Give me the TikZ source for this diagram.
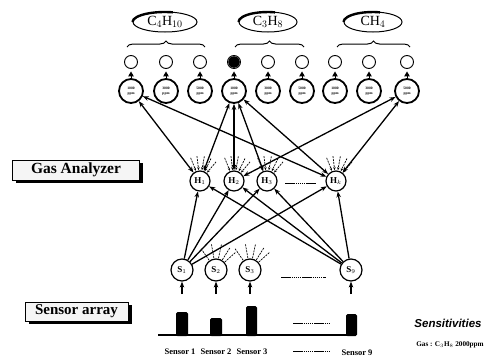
\documentclass[tikz,border=0pt]{standalone}
\usepackage{fontspec}
\setmainfont{Liberation Serif}
\newfontfamily\sansf{Liberation Sans}
\usetikzlibrary{arrows.meta,decorations.pathreplacing,shapes.geometric,shadows}
\begin{document}
\begin{tikzpicture}[x=1pt,y=-1pt,
 conn/.style={line width=1.3pt,-{Stealth[length=6pt,width=4.5pt]}},
 bconn/.style={line width=1.3pt,{Stealth[length=6pt,width=4.5pt]}-{Stealth[length=6pt,width=4.5pt]}},
 outc/.style={circle,draw,line width=0.9pt,minimum size=13pt,inner sep=0pt},
 ppmc/.style={circle,draw,line width=1.8pt,minimum size=24pt,inner sep=0pt,font=\fontsize{3.6}{4.2}\selectfont\bfseries,align=center},
 hid/.style={circle,draw,line width=1.2pt,minimum size=20pt,inner sep=0pt,font=\fontsize{9}{10}\selectfont\bfseries},
 sen/.style={circle,draw,line width=1.2pt,minimum size=22pt,inner sep=0pt,font=\fontsize{9}{10}\selectfont\bfseries},
 gasell/.style={ellipse,draw,line width=1pt,minimum width=60pt,minimum height=20pt,inner sep=0pt,font=\fontsize{14}{15}\selectfont},
 fan/.style={line width=0.7pt,dash pattern=on 2pt off 1pt},
 fanarrow/.style={fan,-{Stealth[length=3pt,width=2.5pt]}},
 dots/.style={line width=0.9pt,dash pattern=on 1.5pt off 0.6pt},
 tri/.style={line width=1pt,-{Triangle[length=5pt,width=5.5pt]}},
 brc/.style={line width=1pt,decorate,decoration={brace,amplitude=6pt}},
 labbox/.style={draw,line width=0.8pt,fill=gray!8,inner sep=0pt,
   drop shadow={shadow xshift=3.5pt,shadow yshift=-3pt,fill=black,opacity=1}},
 sentxt/.style={font=\fontsize{8.5}{9}\selectfont\bfseries,inner sep=0pt},
 bar/.style={fill=black,rounded corners=1.5pt}
]
\useasboundingbox (0,0) rectangle (498,359);

% gas ellipses
\node[gasell,minimum width=64pt] (e1) at (165,22) {C$_4$H$_{10}$};
\node[gasell,minimum width=58pt] (e2) at (268,22) {C$_3$H$_8$};
\node[gasell,minimum width=58pt] (e3) at (373,22) {CH$_4$};
\draw[line width=2.4pt] (e1.west) arc[start angle=180,end angle=285,x radius=32,y radius=10];
\draw[line width=2.4pt] (e2.west) arc[start angle=180,end angle=285,x radius=29,y radius=10];
\draw[line width=2.4pt] (e3.west) arc[start angle=180,end angle=285,x radius=29,y radius=10];

% braces
\draw[brc] (127,47) -- (205,47);
\draw[brc] (235,47) -- (304,47);
\draw[brc] (337,47) -- (410,47);

% output layer
\foreach \i/\x/\v in {1/131/1000,2/166/3000,3/200/5000,4/234/1000,5/268/3000,6/302/5000,7/335/1000,8/369/3000,9/407/5000}{
  \node[ppmc] (p\i) at (\x,91) {\v\\[1pt]ppm};
  \node[outc] (o\i) at (\x,62) {};
  \draw[tri] (p\i.north) -- ([yshift=-2.5pt]o\i.south);
}
\fill (o4) circle (5.8pt);

% hidden layer
\node[hid] (H1) at (200,181) {H$_1$};
\node[hid] (H2) at (234,181) {H$_2$};
\node[hid] (H3) at (267,181) {H$_3$};
\node[hid] (Hk) at (336,181) {H$_k$};
\coordinate (hd1) at (285,183);
\coordinate (hd2) at (316,183);
\draw[dots] (hd1) -- (hd2);

% sensors
\node[sen] (S1) at (182,270) {S$_1$};
\node[sen] (S2) at (216,270) {S$_2$};
\node[sen] (S3) at (250,270) {S$_3$};
\node[sen] (S9) at (351,270) {S$_9$};
\coordinate (sd1) at (281,277);
\coordinate (sd2) at (326,277);
\draw[dots] (sd1) -- (sd2);

% inputs
\foreach \s/\x in {S1/182,S2/216,S3/250,S9/351}{
  \coordinate (in\s) at (\x,294);
  \draw[conn] (in\s) -- (\s);
}

% sensor -> hidden
\foreach \h in {H1,H2,H3,Hk}{
  \draw[conn] (S1) -- (\h);
  \draw[conn] (S9) -- (\h);
}

% hidden <-> output
\draw[bconn] (p1) -- (H1);
\draw[bconn] (p1) -- (Hk);
\draw[bconn] (p4) -- (H1);
\draw[bconn] (p4) -- (H2);
\draw[bconn] (p4) -- (H3);
\draw[bconn] (p4) -- (Hk);
\draw[bconn] (p9) -- (H2);
\draw[bconn] (p9) -- (Hk);

% dashed fans into hidden nodes
\foreach \h in {H1,H2,H3,Hk}{
  \foreach \a in {-112,-97,-80,-64,-50}{
    \draw[fanarrow] ([shift={(\a:25)}]\h.center) -- ([shift={(\a:11)}]\h.center);
  }
}
% dashed fans out of S2, S3
\foreach \s in {S2,S3}{
  \foreach \a in {-125,-100,-78,-58,-42}{
    \draw[fan] ([shift={(\a:12)}]\s.center) -- ([shift={(\a:26)}]\s.center);
  }
}

% sensitivity bars
\draw[line width=1.2pt] (158,335) -- (355,335);
\fill[bar] (176,336) -- (176,312) -- (188,312) -- (188,336) -- cycle;
\fill[bar] (210,336) -- (210,318) -- (222,318) -- (222,336) -- cycle;
\fill[bar] (246,336) -- (246,306) -- (257,306) -- (257,336) -- cycle;
\fill[bar] (346,336) -- (346,314) -- (357,314) -- (357,336) -- cycle;
\coordinate (bd1) at (293,323);
\coordinate (bd2) at (330,323);
\draw[dots] (bd1) -- (bd2);

\node[sentxt] (l1) at (180,352) {Sensor 1};
\node[sentxt] (l2) at (216,352) {Sensor 2};
\node[sentxt] (l3) at (252,352) {Sensor 3};
\node[sentxt] (l9) at (357,353) {Sensor 9};
\coordinate (ld1) at (293,351);
\coordinate (ld2) at (330,351);
\draw[dots] (ld1) -- (ld2);

\node[font=\sansf\fontsize{11.5}{12}\selectfont\bfseries\itshape,inner sep=0pt] (sens) at (448,323) {Sensitivities};
\node[font=\fontsize{7.2}{8}\selectfont\bfseries,inner sep=0pt] (gas) at (450,345) {Gas : C$_3$H$_8$ 2000ppm};

% label boxes
\node[labbox,minimum width=127pt,minimum height=20pt,font=\fontsize{15.5}{17}\selectfont\bfseries] (ga) at (76,170) {Gas Analyzer};
\node[labbox,minimum width=103pt,minimum height=19pt,font=\fontsize{15}{16}\selectfont\bfseries] (sa) at (76.5,311.5) {Sensor array};
\end{tikzpicture}
\end{document}
